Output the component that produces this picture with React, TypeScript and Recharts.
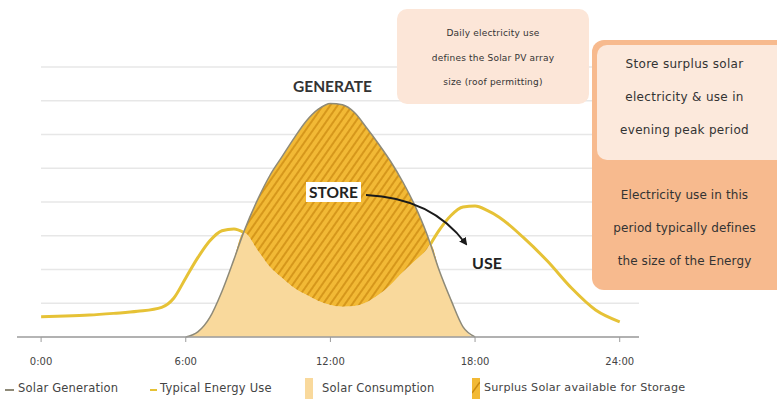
import React from 'react';
import { ComposedChart, Area, Line, XAxis, YAxis, CartesianGrid } from 'recharts';

// hour of day
const hours = [0, 1, 2, 3, 4, 5, 5.5, 6, 6.5, 7, 7.5, 8, 8.4, 9, 9.5, 10, 10.5, 11, 11.5, 12, 12.5, 13, 13.5, 14, 14.5, 15, 15.5, 16, 16.15, 16.5, 17, 17.5, 18, 18.5, 19, 20, 21, 22, 23, 24];

// solar generation (null = before sunrise / after sunset)
const generation = [null, null, null, null, null, null, null, 0, 0.15, 0.58, 1.35, 2.3, 3.1, 4.1, 4.8, 5.35, 5.9, 6.4, 6.75, 6.92, 6.88, 6.65, 6.2, 5.72, 5.2, 4.6, 3.9, 3.05, 2.75, 2.0, 1.1, 0.3, 0, null, null, null, null, null, null, null];

// typical household energy use
const energyUse = [0.6, 0.62, 0.65, 0.7, 0.76, 0.88, 1.15, 1.75, 2.35, 2.85, 3.15, 3.2, 3.1, 2.55, 2.07, 1.75, 1.45, 1.25, 1.07, 0.95, 0.9, 0.92, 1.03, 1.25, 1.55, 1.92, 2.25, 2.6, 2.75, 3.15, 3.6, 3.85, 3.88, 3.75, 3.55, 2.95, 2.25, 1.45, 0.8, 0.45];

const gridLevels = [1, 2, 3, 4, 5, 6, 7, 8];
const hourTicks = [0, 6, 12, 18, 24];
const tickLabels = ['0:00', '6:00', '12:00', '18:00', '24:00'];

const GEN_LINE = '#8e8a78';
const USE_LINE = '#e6c236';
const CONSUMED = '#f9d99c';
const SURPLUS = '#f2b935';

const data = hours.map((hour, i) => {
  const gen = generation[i];
  const use = energyUse[i];
  const g = gen ?? 0;
  return {
    hour,
    gen,
    // the use line is hidden where it runs under the surplus area
    useVisible: g <= use + 1e-9 ? use : null,
    consumed: Math.min(g, use),
    surplus: Math.max(g - use, 0),
  };
});

const font = '"DejaVu Sans", sans-serif';
const boldFont = 'Lato, "Open Sans", sans-serif';

const legendText: React.CSSProperties = { position: 'absolute', top: 381, fontFamily: font, fontSize: 11.5, letterSpacing: 0.2, color: '#444', whiteSpace: 'nowrap' };

const Legend = () => (
  <>
    <span style={{ position: 'absolute', left: 5, top: 389, width: 9, height: 2, background: GEN_LINE }} />
    <span style={{ ...legendText, left: 18 }}>Solar Generation</span>
    <span style={{ position: 'absolute', left: 150, top: 389, width: 7, height: 2, background: USE_LINE }} />
    <span style={{ ...legendText, left: 160 }}>Typical Energy Use</span>
    <span style={{ position: 'absolute', left: 305, top: 378, width: 8, height: 21, background: CONSUMED }} />
    <span style={{ ...legendText, left: 322 }}>Solar Consumption</span>
    <svg width={8} height={21} style={{ position: 'absolute', left: 472, top: 378 }}>
      <rect width={8} height={21} fill={SURPLUS} />
      <path d="M0,15 L8,4" stroke="#c98a12" strokeWidth={1.5} />
    </svg>
    <span style={{ ...legendText, left: 484, fontSize: 11.2 }}>Surplus Solar available for Storage</span>
  </>
);

const Annotations = () => (
  <>
    <div style={{ position: 'absolute', left: 397, top: 9, width: 192, height: 95, background: '#fce6d8', borderRadius: 10, fontFamily: font, fontSize: 9, letterSpacing: 0.2, color: '#333', textAlign: 'center', lineHeight: '24.5px', paddingTop: 12, boxSizing: 'border-box' }}>
      <div>Daily electricity use</div>
      <div>defines the Solar PV array</div>
      <div>size (roof permitting)</div>
    </div>
    <div style={{ position: 'absolute', left: 592, top: 40, width: 200, height: 250, background: '#f7ba8e', borderRadius: 12 }} />
    <div style={{ position: 'absolute', left: 597, top: 45, width: 195, height: 115, background: '#fce9dc', borderRadius: 10 }} />
    <div style={{ position: 'absolute', left: 592, top: 48, width: 185, fontFamily: font, fontSize: 12, letterSpacing: 0.3, color: '#333', textAlign: 'center', lineHeight: '33px' }}>
      <div>Store surplus solar</div>
      <div>electricity &amp; use in</div>
      <div>evening peak period</div>
    </div>
    <div style={{ position: 'absolute', left: 592, top: 179, width: 185, fontFamily: font, fontSize: 12, letterSpacing: 0.1, color: '#333', textAlign: 'center', lineHeight: '33px' }}>
      <div>Electricity use in this</div>
      <div>period typically defines</div>
      <div>the size of the Energy</div>
    </div>
    <div style={{ position: 'absolute', left: 293, top: 77, fontFamily: boldFont, fontWeight: 700, fontSize: 15.5, color: '#333' }}>GENERATE</div>
    <div style={{ position: 'absolute', left: 306, top: 182, padding: '1px 3px', background: '#fff', fontFamily: boldFont, fontWeight: 700, fontSize: 15.5, color: '#222' }}>STORE</div>
    <div style={{ position: 'absolute', left: 472, top: 253, fontFamily: boldFont, fontWeight: 700, fontSize: 16, color: '#222' }}>USE</div>
    <svg width={777} height={400} style={{ position: 'absolute', left: 0, top: 0, pointerEvents: 'none' }}>
      <defs>
        <marker id="arrowHead" markerWidth={8} markerHeight={8} refX={6} refY={4} orient="auto" markerUnits="userSpaceOnUse">
          <path d="M0,0 L8,4 L0,8 z" fill="#1a1a1a" />
        </marker>
      </defs>
      <path d="M366,195 Q432,198 466,244" fill="none" stroke="#1a1a1a" strokeWidth={1.8} markerEnd="url(#arrowHead)" />
    </svg>
  </>
);

const App: React.FC = () => {
  return (
    <div style={{ position: 'absolute', left: 0, top: 0, width: 777, height: 400, background: '#fff', overflow: 'hidden' }}>
      <ComposedChart width={777} height={400} data={data} margin={{ top: 67, right: 138, bottom: 33, left: 17 }}>
        <defs>
          <pattern id="hatch" width={6} height={6} patternUnits="userSpaceOnUse" patternTransform="rotate(35)">
            <rect width={6} height={6} fill={SURPLUS} />
            <line x1={1} y1={0} x2={1} y2={6} stroke="#cf8e14" strokeWidth={1.6} />
          </pattern>
        </defs>
        <CartesianGrid x={41} width={598} vertical={false} stroke="#e7e7e7" strokeWidth={1.5} />
        <XAxis
          type="number"
          dataKey="hour"
          domain={[-1, 24.8]}
          ticks={hourTicks}
          tickFormatter={(v: number) => tickLabels[hourTicks.indexOf(v)]}
          height={30}
          axisLine={{ stroke: '#9c9c9c', strokeWidth: 1.5 }}
          tickLine={{ stroke: '#9c9c9c' }}
          tickSize={5}
          tickMargin={16}
          tick={{ fontSize: 10, fill: '#444', fontFamily: font }}
        />
        <YAxis hide domain={[0, 8]} ticks={gridLevels} />
        <Area type="monotone" dataKey="consumed" stackId="solar" fill={CONSUMED} fillOpacity={1} stroke="none" isAnimationActive={false} />
        <Area type="monotone" dataKey="surplus" stackId="solar" fill="url(#hatch)" fillOpacity={1} stroke="none" isAnimationActive={false} />
        <Line type="monotone" dataKey="useVisible" stroke={USE_LINE} strokeWidth={3} dot={false} connectNulls={false} isAnimationActive={false} />
        <Line type="monotone" dataKey="gen" stroke={GEN_LINE} strokeWidth={1.5} dot={false} connectNulls={false} isAnimationActive={false} />
      </ComposedChart>
      <Annotations />
      <Legend />
    </div>
  );
};

export default App;
